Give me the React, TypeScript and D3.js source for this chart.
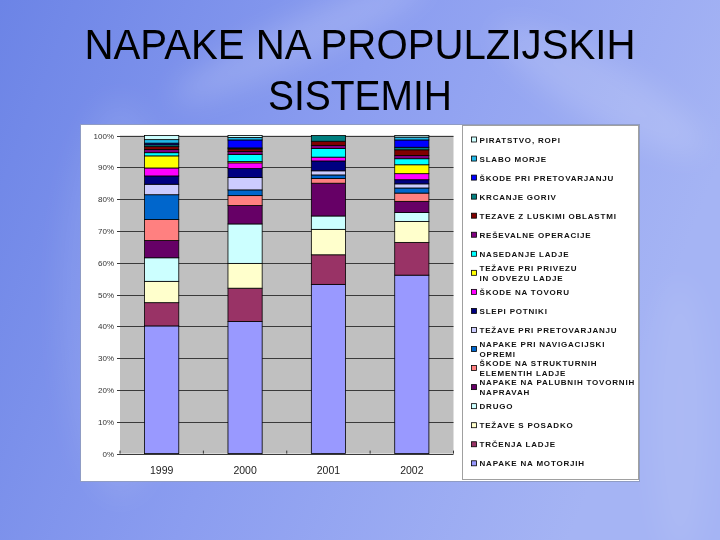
import * as d3 from 'd3'

// stacked from bottom (index 0) to top
const seriesNames = [
  'NAPAKE NA MOTORJIH',
  'TRČENJA LADJE',
  'TEŽAVE S POSADKO',
  'DRUGO',
  'NAPAKE NA PALUBNIH TOVORNIH|NAPRAVAH',
  'ŠKODE NA STRUKTURNIH|ELEMENTIH LADJE',
  'NAPAKE PRI NAVIGACIJSKI|OPREMI',
  'TEŽAVE PRI PRETOVARJANJU',
  'SLEPI POTNIKI',
  'ŠKODE NA TOVORU',
  'TEŽAVE PRI PRIVEZU|IN ODVEZU LADJE',
  'NASEDANJE LADJE',
  'REŠEVALNE OPERACIJE',
  'TEZAVE Z LUSKIMI OBLASTMI',
  'KRCANJE GORIV',
  'ŠKODE PRI PRETOVARJANJU',
  'SLABO MORJE',
  'PIRATSTVO, ROPI',
]

const seriesColors = [
  '#9999FF', '#993366', '#FFFFCC', '#CCFFFF', '#660066', '#FF8080',
  '#0066CC', '#CCCCFF', '#000080', '#FF00FF', '#FFFF00', '#00FFFF',
  '#800080', '#800000', '#008080', '#0000FF', '#20B8E8', '#CCFFFF',
]

const years = ['1999', '2000', '2001', '2002']

const v1999 = [40.1, 7.3, 6.7, 7.4, 5.4, 6.6, 7.8, 3.3, 2.6, 2.5, 3.8, 1.0, 1.0, 0.9, 0.6, 0.5, 1.1, 1.3]
const v2000 = [41.5, 10.5, 7.8, 12.4, 5.8, 3.1, 1.8, 3.9, 2.8, 1.8, 0.4, 2.2, 1.0, 0.8, 0.3, 2.5, 0.8, 0.6]
const v2001 = [53.2, 9.3, 8.0, 4.2, 10.3, 1.5, 1.1, 1.3, 3.1, 1.2, 0, 2.7, 1.0, 1.3, 1.8, 0, 0, 0]
const v2002 = [56.1, 10.3, 6.6, 2.8, 3.5, 2.6, 1.6, 1.3, 1.3, 1.9, 2.8, 1.9, 1.0, 1.8, 0.8, 2.3, 0.9, 0.5]

const yTicks = [0, 0.1, 0.2, 0.3, 0.4, 0.5, 0.6, 0.7, 0.8, 0.9, 1]

const plot = { left: 120, right: 453.5, top: 135.5, bottom: 453.6 }
const font = '"Liberation Sans", Arial, sans-serif'

const App = () => {
  const rows = [v1999, v2000, v2001, v2002].map((vals, i) => {
    const r: Record<string, any> = { year: years[i] }
    vals.forEach((v, j) => { r[String(j)] = v })
    return r
  })
  const keys = seriesNames.map((_, i) => String(i))
  const stacked = d3.stack<any>().keys(keys).offset(d3.stackOffsetExpand)(rows)

  const x = d3.scaleBand<string>()
    .domain(years)
    .range([plot.left, plot.right])
    .paddingInner(0.59)
    .paddingOuter(0.295)

  const y = d3.scaleLinear().domain([0, 1]).range([plot.bottom, plot.top])

  // legend goes top (last series) to bottom (first series)
  const legendOrder = seriesNames.map((_, i) => i).reverse()
  const ly = d3.scalePoint<number>().domain(legendOrder).range([139.5, 463.3])
  const pct = d3.format('.0%')

  return (
    <div style={{ position: 'absolute', left: 0, top: 0 }}>
      <svg width={720} height={540} style={{ display: 'block' }}>
        <defs>
          <linearGradient id="bg" x1="0" y1="0" x2="1" y2="0.3">
            <stop offset="0" stopColor="#6c84e6" />
            <stop offset="0.5" stopColor="#8b9df0" />
            <stop offset="1" stopColor="#a5b4f4" />
          </linearGradient>
          <filter id="blur" x="-50%" y="-50%" width="200%" height="200%">
            <feGaussianBlur stdDeviation="14" />
          </filter>
        </defs>
        <rect width={720} height={540} fill="url(#bg)" />
        <g filter="url(#blur)" fill="#ffffff">
          <ellipse cx={300} cy={40} rx={140} ry={22} opacity={0.16} transform="rotate(-25 300 40)" />
          <ellipse cx={600} cy={90} rx={120} ry={30} opacity={0.14} transform="rotate(30 600 90)" />
          <ellipse cx={120} cy={300} rx={60} ry={200} opacity={0.08} />
          <ellipse cx={680} cy={420} rx={30} ry={140} opacity={0.08} />
        </g>

        <text x={360} y={59} textAnchor="middle" fontFamily={font} fontSize={43} fill="#000"
          textLength={551} lengthAdjust="spacingAndGlyphs">
          NAPAKE NA PROPULZIJSKIH
        </text>
        <text x={360} y={110} textAnchor="middle" fontFamily={font} fontSize={43} fill="#000"
          textLength={184} lengthAdjust="spacingAndGlyphs">
          SISTEMIH
        </text>

        {/* chart frame */}
        <rect x={80.5} y={124.5} width={559} height={357} fill="#fff" stroke="#8f9cc4" />

        {/* plot area */}
        <rect x={plot.left} y={plot.top} width={plot.right - plot.left} height={plot.bottom - plot.top} fill="#C0C0C0" />
        {yTicks.map(t => (
          <g key={t}>
            <line x1={plot.left - 3} x2={plot.right} y1={Math.round(y(t)) + 0.5} y2={Math.round(y(t)) + 0.5}
              stroke="#3a3a3a" strokeWidth={1} />
            <text x={114} y={y(t) + 3} textAnchor="end" fontFamily={font} fontSize={8} fill="#333">
              {pct(t)}
            </text>
          </g>
        ))}
        {years.concat(['end']).map((yr, i) => {
          const xx = plot.left + i * x.step()
          return <line key={yr} x1={xx} x2={xx} y1={plot.bottom} y2={plot.bottom - 3} stroke="#333" />
        })}

        {stacked.map((layer, si) => (
          <g key={si} fill={seriesColors[si]}>
            {layer.map((d, ci) => (
              d[1] - d[0] > 0 ? (
                <rect key={ci}
                  x={x(years[ci])!}
                  y={y(d[1])}
                  width={x.bandwidth()}
                  height={y(d[0]) - y(d[1])}
                  stroke="#000" strokeWidth={0.8} />
              ) : null
            ))}
          </g>
        ))}

        {years.map(yr => (
          <text key={yr} x={x(yr)! + x.bandwidth() / 2} y={474} textAnchor="middle"
            fontFamily={font} fontSize={10.5} fill="#222">{yr}</text>
        ))}

        {/* legend */}
        <rect x={462.5} y={125.5} width={176} height={354} fill="#fff" stroke="#a0a0a0" />
        {legendOrder.map(i => {
          const lines = seriesNames[i].split('|')
          const cy = ly(i)!
          const lh = 9.4
          const y0 = cy - ((lines.length - 1) * lh) / 2
          return (
            <g key={i}>
              <rect x={471.5} y={cy - 2.5} width={5} height={5} fill={seriesColors[i]} stroke="#000" strokeWidth={0.8} />
              {lines.map((ln, k) => (
                <text key={k} x={479.5} y={y0 + k * lh + 3} fontFamily={font} fontSize={8}
                  fontWeight="bold" letterSpacing={0.8} fill="#111">{ln}</text>
              ))}
            </g>
          )
        })}
      </svg>
    </div>
  )
}

export default App
